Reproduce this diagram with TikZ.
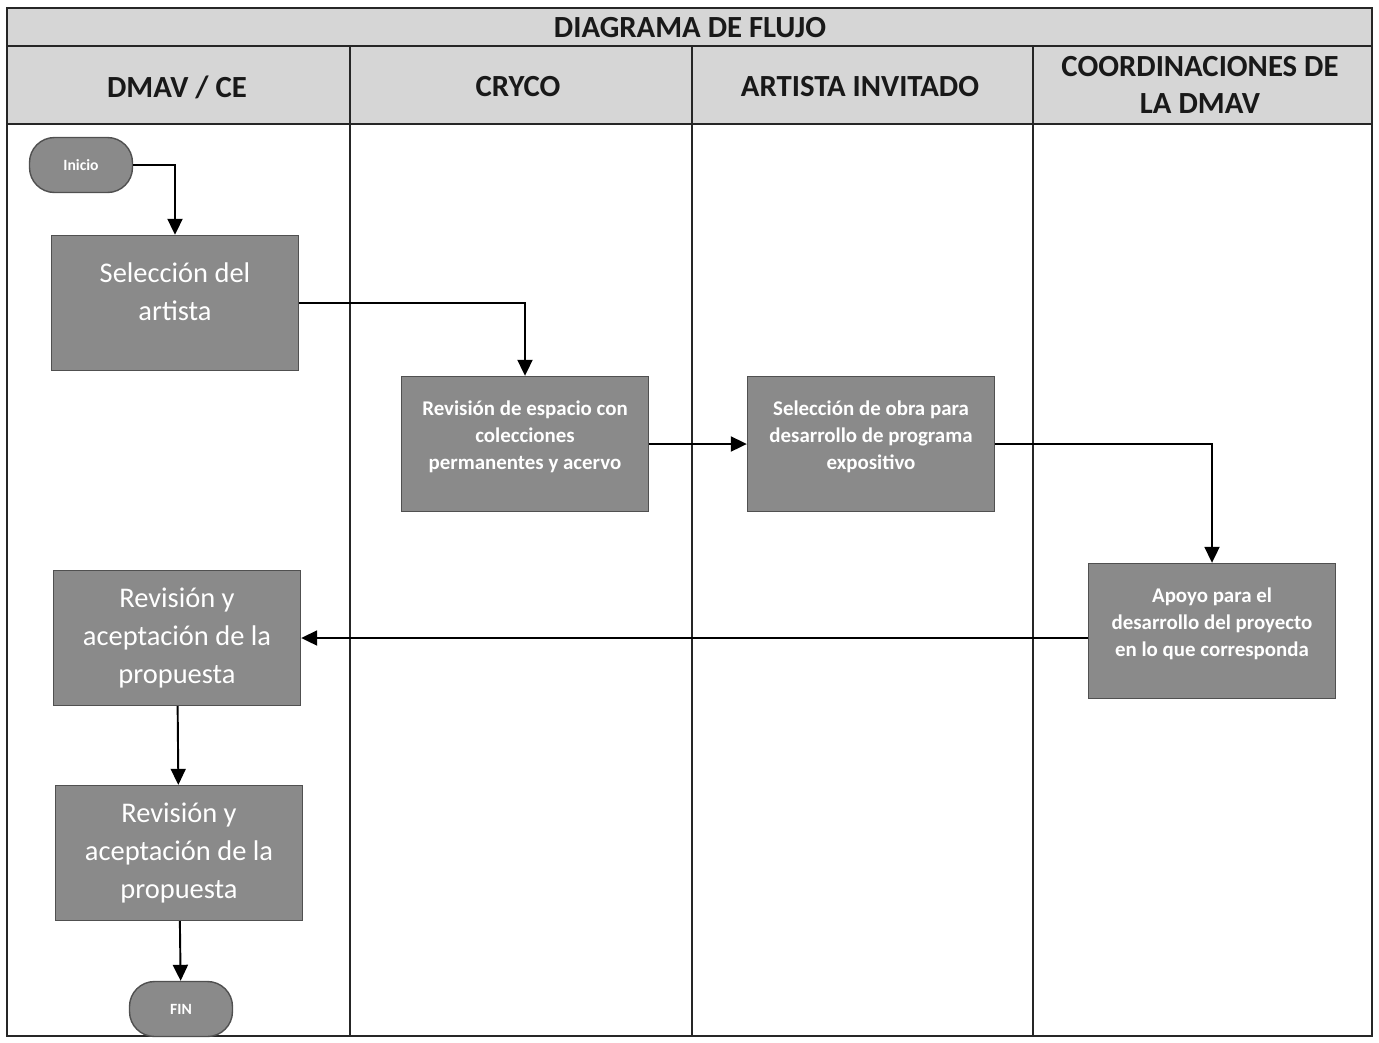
\documentclass[tikz,border=0pt]{standalone}
\usepackage{fontspec}
\setmainfont{Carlito}
\usepackage{tikz}
\usetikzlibrary{arrows.meta}
\definecolor{boxgray}{RGB}{138,138,138}
\definecolor{boxline}{RGB}{80,80,80}
\definecolor{headgray}{RGB}{214,214,214}
\tikzstyle{lane} = [draw=black!85,line width=0.9pt]
\tikzstyle{lanehead} = [font=\fontsize{17.5}{21}\selectfont\bfseries,text=black!90,align=center]
\tikzstyle{process} = [draw=boxline,fill=boxgray,line width=0.8pt,minimum width=4.94cm,minimum height=2.7cm,text=white,align=center,inner sep=2pt]
\tikzstyle{big} = [font=\fontsize{16.2}{21.6}\selectfont]
\tikzstyle{small} = [font=\fontsize{11.9}{15.4}\selectfont\bfseries]
\tikzstyle{terminal} = [draw=boxline,fill=boxgray,line width=0.8pt,rounded corners=0.5cm,minimum width=2.06cm,minimum height=1.1cm,text=white,font=\fontsize{8.9}{10}\selectfont\bfseries]
\tikzstyle{flow} = [draw=black,line width=1.1pt,-{Triangle[length=0.32cm,width=0.3cm]}]

\begin{document}
\begin{tikzpicture}[x=0.02cm,y=-0.02cm]
\useasboundingbox (0,0) rectangle (1379,1042);

% swimlanes
\fill[headgray] (7,8) rectangle (1372,124);
\draw[lane] (7,8) rectangle (1372,1036);
\draw[lane] (7,46) -- (1372,46);
\draw[lane] (7,124) -- (1372,124);
\foreach \xs in {350,692,1033}
  \draw[lane] (\xs,46) -- (\xs,1036);

\node[lanehead] (titulo) at (690,28) {DIAGRAMA DE FLUJO};
\node[lanehead] (hdmav) at (177,87) {DMAV / CE};
\node[lanehead] (hcryco) at (518,87) {CRYCO};
\node[lanehead] (hartista) at (860,87) {ARTISTA INVITADO};
\node[lanehead] (hcoord) at (1200,85) {COORDINACIONES DE\\LA DMAV};

% steps (an empty last line lifts the text a little)
\node[terminal] (inicio) at (81,165) {Inicio};
\node[process,big] (selart) at (175,303) {Selección del\\artista\\[-0.32cm]\mbox{}};
\node[process,small] (revesp) at (525,444) {Revisión de espacio con\\colecciones\\permanentes y acervo\\[-0.2cm]\mbox{}};
\node[process,small] (selobra) at (871,444) {Selección de obra para\\desarrollo de programa\\expositivo\\[-0.2cm]\mbox{}};
\node[process,small] (apoyo) at (1212,631) {Apoyo para el\\desarrollo del proyecto\\en lo que corresponda\\[-0.2cm]\mbox{}};
\node[process,big] (revacep) at (177,638) {Revisión y\\aceptación de la\\propuesta};
\node[process,big] (revacepb) at (179,853) {Revisión y\\aceptación de la\\propuesta};
\node[terminal] (fin) at (181,1009) {FIN};

% connectors
\draw[flow] (inicio.east) -| (selart.north);
\draw[flow] (selart.east) -| (revesp.north);
\draw[flow] (revesp) -- (selobra);
\draw[flow] (selobra.east) -| (apoyo.north);
\draw[flow] (revacep.east -| apoyo.west) -- (revacep.east);
\draw[flow] (revacep) -- (revacepb);
\draw[flow] (revacepb) -- (fin);

\end{tikzpicture}
\end{document}
